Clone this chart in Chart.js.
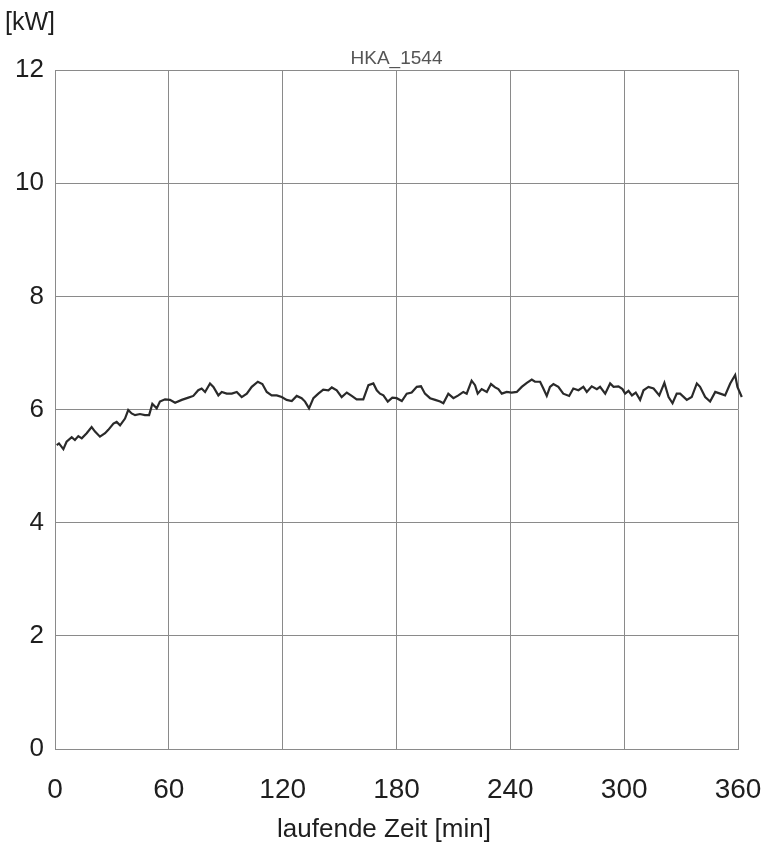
<!DOCTYPE html>
<html>
<head>
<meta charset="utf-8">
<script src="https://cdn.jsdelivr.net/npm/chart.js@4"></script>
<style>
  html, body { margin: 0; padding: 0; background: #fff; }
  #wrap { width: 768px; height: 848px; }
</style>
</head>
<body>
<div id="wrap"><canvas id="powerChart" width="768" height="848"></canvas></div>
<script>
// ==================== DATA ====================
const TIME_MIN = [
  0.9, 2.1, 4.4, 6.1, 8.8, 10.5, 12.3, 14.1, 16.7, 19.3, 21.1, 23.7, 26.4, 28.1, 30.8, 32.5,
  34.3, 36.9, 38.6, 40.4, 42.2, 44.8, 47.4, 49.6, 51.3, 53.6, 55.3, 58.0, 60.6, 63.3, 66.8,
  70.3, 72.9, 75.5, 77.3, 79.1, 81.7, 83.5, 86.1, 87.9, 90.5, 93.2, 95.8, 98.4, 101.1, 103.7,
  106.9, 109.3, 111.6, 114.2, 116.9, 119.5, 122.1, 124.8, 127.4, 130.0, 131.8, 133.9, 136.2,
  138.8, 141.4, 144.1, 145.9, 148.5, 151.1, 153.8, 156.4, 159.0, 162.5, 165.2, 167.8, 169.6,
  171.3, 173.1, 175.4, 177.8, 180.1, 182.8, 185.4, 188.0, 190.7, 192.9, 195.0, 197.7, 200.4,
  203.0, 204.7, 207.3, 210.0, 212.6, 215.2, 217.0, 219.6, 221.4, 222.8, 224.9, 227.6, 229.8,
  232.0, 233.7, 235.5, 238.1, 240.7, 243.4, 246.0, 248.7, 251.3, 253.0, 255.7, 257.4, 259.2,
  260.9, 262.7, 265.3, 267.9, 271.0, 273.2, 275.9, 278.5, 280.3, 282.9, 285.6, 287.3, 290.0,
  292.6, 294.4, 297.0, 299.1, 300.5, 302.3, 304.1, 306.1, 308.4, 310.2, 312.8, 315.5, 318.5,
  321.2, 323.4, 325.5, 327.7, 329.5, 333.0, 335.6, 338.3, 340.0, 342.7, 345.3, 348.0, 350.6,
  353.2, 355.9, 358.5, 359.7, 362.0, 364.6
];
const POWER_KW = [
  5.37, 5.40, 5.30, 5.43, 5.51, 5.46, 5.53, 5.49, 5.58, 5.69, 5.61, 5.52, 5.58, 5.64, 5.75, 5.78,
  5.72, 5.84, 5.99, 5.93, 5.90, 5.92, 5.90, 5.90, 6.10, 6.02, 6.14, 6.18, 6.17, 6.12, 6.17,
  6.21, 6.24, 6.34, 6.37, 6.31, 6.46, 6.40, 6.25, 6.31, 6.28, 6.28, 6.31, 6.22, 6.28, 6.40,
  6.49, 6.45, 6.31, 6.25, 6.25, 6.22, 6.17, 6.15, 6.24, 6.20, 6.14, 6.02, 6.20,
  6.28, 6.35, 6.34, 6.39, 6.34, 6.22, 6.30, 6.24, 6.18, 6.18, 6.43, 6.46, 6.34,
  6.28, 6.25, 6.14, 6.21, 6.20, 6.15, 6.28, 6.30, 6.40, 6.41, 6.28, 6.20, 6.17,
  6.14, 6.11, 6.28, 6.20, 6.25, 6.31, 6.28, 6.51, 6.43, 6.28, 6.36, 6.31, 6.45,
  6.39, 6.36, 6.28, 6.31, 6.30, 6.31, 6.40, 6.47, 6.53, 6.49, 6.49, 6.37, 6.24,
  6.40, 6.45, 6.40, 6.28, 6.24, 6.37, 6.34, 6.40, 6.31, 6.41, 6.36, 6.40, 6.28,
  6.46, 6.40, 6.41, 6.36, 6.28, 6.33, 6.25, 6.30, 6.17, 6.34, 6.40, 6.37, 6.25,
  6.47, 6.22, 6.11, 6.28, 6.28, 6.17, 6.22, 6.46, 6.40, 6.22, 6.14, 6.31, 6.28,
  6.25, 6.46, 6.61, 6.40, 6.22, 6.28
];
const X_TICKS = [0, 60, 120, 180, 240, 300, 360];
const Y_TICKS = [0, 2, 4, 6, 8, 10, 12];
const CHART_TITLE = 'HKA_1544';
const Y_UNIT = '[kW]';
const X_LABEL = 'laufende Zeit [min]';

// ==================== STYLE ====================
const FONT = 'Liberation Sans, Arial, sans-serif';
const GRID_COLOR = '#8a8a8a';
const TEXT_COLOR = '#1e1e1e';

// draws the unit, the small title and the x axis caption
const labelsPlugin = {
  id: 'labels',
  afterDraw(chart) {
    const ctx = chart.ctx;
    const area = chart.chartArea;
    ctx.save();
    ctx.fillStyle = TEXT_COLOR;
    ctx.textBaseline = 'middle';
    ctx.textAlign = 'left';
    ctx.font = `25px ${FONT}`;
    ctx.fillText(Y_UNIT, 5, 23);

    ctx.fillStyle = '#555';
    ctx.textAlign = 'center';
    ctx.textBaseline = 'alphabetic';
    ctx.font = `19px ${FONT}`;
    ctx.fillText(CHART_TITLE, (area.left + area.right) / 2, 64);

    ctx.fillStyle = TEXT_COLOR;
    ctx.textBaseline = 'middle';
    ctx.font = `26px ${FONT}`;
    ctx.fillText(X_LABEL, chart.width / 2, 830);
    ctx.restore();
  }
};

// ==================== CHART ====================
const points = TIME_MIN.map((t, i) => ({ x: t, y: POWER_KW[i] }));

new Chart(document.getElementById('powerChart'), {
  type: 'line',
  data: {
    datasets: [{
      data: points,
      borderColor: '#2a2a2a',
      borderWidth: 2.2,
      pointRadius: 0,
      tension: 0,
      fill: false,
      clip: false
    }]
  },
  options: {
    responsive: false,
    animation: false,
    layout: { padding: { left: 0, right: 30, top: 70, bottom: 0 } },
    plugins: {
      legend: { display: false },
      tooltip: { enabled: false }
    },
    scales: {
      x: {
        type: 'linear',
        min: 0,
        max: 360,
        afterFit: s => { s.height = 99; s.paddingLeft = 0; s.paddingRight = 0; },
        afterBuildTicks: s => { s.ticks = X_TICKS.map(v => ({ value: v })); },
        grid: { color: GRID_COLOR, lineWidth: 1, drawTicks: false },
        border: { color: GRID_COLOR, width: 1 },
        ticks: {
          color: TEXT_COLOR,
          padding: 24,
          maxRotation: 0,
          font: { family: FONT, size: 28 }
        }
      },
      y: {
        min: 0,
        max: 12,
        afterFit: s => { s.width = 55; s.paddingTop = 0; s.paddingBottom = 0; },
        afterBuildTicks: s => { s.ticks = Y_TICKS.map(v => ({ value: v })); },
        grid: { color: GRID_COLOR, lineWidth: 1, drawTicks: false },
        border: { color: GRID_COLOR, width: 1 },
        ticks: {
          color: TEXT_COLOR,
          padding: 11,
          font: { family: FONT, size: 26 }
        }
      }
    }
  },
  plugins: [labelsPlugin]
});
</script>
</body>
</html>
